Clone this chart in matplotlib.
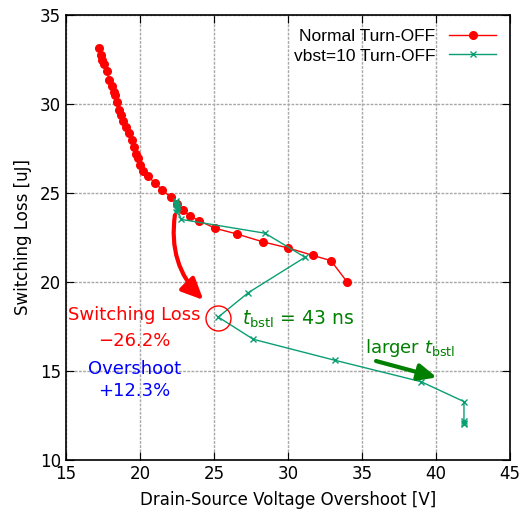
import matplotlib.pyplot as plt

# Normal turn-off
normal_v = [17.23, 17.34, 17.45, 17.57, 17.77, 17.91, 18.09, 18.22, 18.31, 18.45,
            18.56, 18.70, 18.87, 19.08, 19.26, 19.44, 19.62, 19.75, 19.84, 19.98,
            20.20, 20.54, 20.99, 21.51, 22.07, 22.50, 22.90, 23.36, 24.00, 25.07,
            26.53, 28.33, 30.02, 31.66, 32.90, 34.00]
normal_e = [33.16, 32.75, 32.47, 32.25, 31.87, 31.35, 31.00, 30.69, 30.50, 30.10,
            29.66, 29.40, 29.06, 28.72, 28.35, 27.98, 27.60, 27.19, 26.97, 26.56,
            26.25, 25.94, 25.58, 25.17, 24.76, 24.40, 24.04, 23.71, 23.44, 23.02,
            22.70, 22.25, 21.91, 21.50, 21.20, 20.00]

# vbst=10 turn-off
vbst_v = [22.40, 22.45, 22.50, 22.55, 22.50, 22.45, 22.42, 22.77, 28.45, 31.15,
          27.32, 25.29, 27.66, 33.18, 38.99, 41.89, 41.89, 41.92, 41.89]
vbst_e = [24.55, 24.40, 24.30, 24.20, 24.10, 23.95, 24.45, 23.52, 22.74, 21.39,
          19.40, 18.03, 16.78, 15.60, 14.40, 13.28, 12.20, 12.10, 12.00]

fig = plt.figure(figsize=(5.22, 5.09), dpi=100)
ax = fig.add_axes([0.1264, 0.0963, 0.8506, 0.8742])

ax.plot(normal_v, normal_e, color='red', lw=1, marker='o', ms=5.5,
        label='Normal Turn-OFF')
ax.plot(vbst_v, vbst_e, color='#0a9e73', lw=1, marker='x', ms=5, mew=1,
        label='vbst=10 Turn-OFF')

ax.set_xlim(15, 45)
ax.set_ylim(10, 35)
ax.set_xticks(range(15, 46, 5))
ax.set_yticks(range(10, 36, 5))
ax.grid(True, color='#a8a8a8', ls=(0, (2, 1)), lw=1)
ax.tick_params(direction='in', top=True, right=True, labelsize=12, length=6)
for s in ax.spines.values():
    s.set_linewidth(1.2)

ax.set_xlabel('Drain-Source Voltage Overshoot [V]', fontsize=12, labelpad=6)
ax.set_ylabel('Switching Loss [uJ]', fontsize=12, labelpad=6)

leg = ax.legend(loc='upper right', frameon=False, markerfirst=False,
                prop={'family': 'Liberation Sans', 'size': 12.5},
                handlelength=2.7, borderaxespad=0.4, labelspacing=0.25)

# annotations
ax.plot([25.29], [17.96], marker='o', ms=18, mfc='none', mec='red', mew=1)
ax.annotate('', xy=(24.28, 18.99), xytext=(22.36, 23.76),
            arrowprops=dict(arrowstyle='-|>,head_length=1.3,head_width=0.6',
                            color='red', lw=3, shrinkA=0, shrinkB=0,
                            connectionstyle='arc3,rad=0.25'))
ax.text(19.6, 18.15, 'Switching Loss', color='red', fontsize=13,
        ha='center', va='center')
ax.text(19.6, 16.7, '\u221226.2%', color='red', fontsize=13,
        ha='center', va='center')
ax.text(19.6, 15.1, 'Overshoot', color='blue', fontsize=13,
        ha='center', va='center')
ax.text(19.6, 13.9, '+12.3%', color='blue', fontsize=13,
        ha='center', va='center')
ax.text(26.9, 17.9, r'$t_{\mathrm{bstl}}$ = 43 ns', color='green',
        fontsize=13.5, ha='left', va='center')
ax.text(35.2, 16.3, r'larger $t_{\mathrm{bstl}}$', color='green',
        fontsize=13, ha='left', va='center')
ax.annotate('', xy=(40.05, 14.64), xytext=(35.95, 15.56),
            arrowprops=dict(arrowstyle='-|>,head_length=1.1,head_width=0.5',
                            color='green', lw=3, shrinkA=0, shrinkB=0))

fig.savefig('out.png', dpi=100)
